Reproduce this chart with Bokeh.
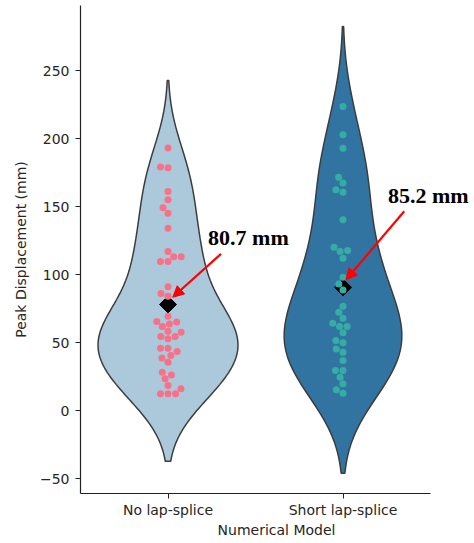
import numpy as np
from bokeh.plotting import figure
from bokeh.models import Range1d, FixedTicker, Label, Arrow, NormalHead
from bokeh.embed import file_html
from bokeh.resources import INLINE

# ---------------- data ----------------
categories = ["No lap-splice", "Short lap-splice"]
no_lap_splice = [193, 179, 178.5, 161, 155, 149, 145, 134, 117, 113, 113, 109.5, 109.5,
                 91, 86, 84, 69.3, 65.4, 63.7, 65, 61.8, 57.6, 58.3, 54.4, 52.7, 54.4,
                 45.8, 45.8, 43.4, 40.4, 38.7, 35.5, 28.2, 26.2, 23.3, 18.4, 16, 12.3, 12.3, 12.3]
short_lap_splice = [223.5, 202.7, 192.9, 171.5, 167.2, 162.3, 160.5, 140.2,
                    120, 116.9, 117.6, 112, 98, 93.1, 88.7, 76.7, 72.3, 67.9, 64.2,
                    61.8, 61.8, 57.1, 51.5, 49.8, 45.3, 42.9, 36.8, 29.4, 29.4, 24.5,
                    19.6, 15.2, 12.7]
series = [no_lap_splice, short_lap_splice]
mean_labels = ["80.7 mm", "85.2 mm"]
y_ticks = [-50, 0, 50, 100, 150, 200, 250]

# ---------------- styling / layout ----------------
violin_fill = ["#abc9db", "#3274a1"]
point_color = ["#f77189", "#36ada4"]
W, H = 472, 543
ML, MR, MT, MB = 80, 0, 5, 50
ppx = 175.0   # px per category unit
ppy = 1.36    # px per mm
x0 = -0.5
XR = (x0, x0 + (W - ML - MR) / ppx)
y1 = 297.8
YR = (y1 - (H - MT - MB) / ppy, y1)

p = figure(width=W, height=H, x_range=Range1d(*XR), y_range=Range1d(*YR),
           output_backend="svg", toolbar_location=None,
           min_border_left=ML, min_border_right=MR, min_border_top=MT, min_border_bottom=MB)
p.outline_line_color = None
p.xgrid.visible = False
p.ygrid.visible = False
p.background_fill_color = "white"


def kde(vals, cut=2, gridsize=100):
    v = np.asarray(vals, float)
    bw = v.std(ddof=1) * len(v) ** (-1 / 5)
    s = np.linspace(v.min() - cut * bw, v.max() + cut * bw, gridsize)
    d = np.exp(-0.5 * ((s[:, None] - v[None, :]) / bw) ** 2).sum(1) / (len(v) * bw * np.sqrt(2 * np.pi))
    return s, d


def swarm(vals, r):
    vals = np.asarray(vals, float)
    order = np.argsort(vals, kind="stable")
    placed = []
    out = np.zeros(len(vals))
    for idx in order:
        y = vals[idx] * ppy
        nb = [(xj, yj) for xj, yj in placed if abs(y - yj) < 2 * r]
        cands = [0.0]
        left_first = True
        for xj, yj in reversed(nb):
            dx = np.sqrt(max((2 * r) ** 2 - (y - yj) ** 2, 0)) * 1.05
            cands.extend([xj - dx, xj + dx] if left_first else [xj + dx, xj - dx])
            left_first = not left_first
        cands.sort(key=abs)
        x = cands[-1]
        for c in cands:
            if all((c - xj) ** 2 + (y - yj) ** 2 >= (2 * r) ** 2 - 1e-6 for xj, yj in nb):
                x = c
                break
        placed.append((x, y))
        out[idx] = x / ppx
    return out


kdes = [kde(s) for s in series]
dmax = max(d.max() for _, d in kdes)
for i, (s, d) in enumerate(kdes):
    half = d / dmax * 0.4
    xs = np.concatenate([i - half, (i + half)[::-1]])
    ys = np.concatenate([s, s[::-1]])
    p.patch(xs, ys, fill_color=violin_fill[i], line_color="#3d3d3d", line_width=1.5)

means = [float(np.mean(s)) for s in series]
p.scatter(x=[0, 1], y=means, marker="square", angle=np.pi / 4, size=12,
          fill_color="black", line_color="black")

for i, s in enumerate(series):
    off = swarm(s, 3.6)
    p.scatter(x=i + off, y=s, marker="circle", size=7, fill_color=point_color[i], line_color=None)

# annotations
ann_text_pos = [(0.229, 127), (1.257, 158)]
ann_arrow = [((0.303, 115.2), (0.027, 83.3)), ((1.350, 146.5), (1.017, 96.1))]
for (tx, ty), txt in zip(ann_text_pos, mean_labels):
    p.add_layout(Label(x=tx, y=ty, text=txt, text_font="Liberation Serif", text_font_style="bold",
                       text_font_size="22px", text_align="left", text_baseline="middle",
                       text_color="black"))
for (a, b) in ann_arrow:
    p.add_layout(Arrow(x_start=a[0], y_start=a[1], x_end=b[0], y_end=b[1],
                       line_color="red", line_width=2.2,
                       end=NormalHead(size=11, fill_color="red", line_color="red")))

# axes
for ax in (p.xaxis[0], p.yaxis[0]):
    ax.axis_line_color = "#222222"
    ax.axis_line_width = 1.2
    ax.major_tick_line_color = "#222222"
    ax.major_tick_in = 0
    ax.major_tick_out = 5
    ax.minor_tick_line_color = None
    ax.major_label_text_font = "DejaVu Sans"
    ax.major_label_text_font_size = "14px"
    ax.major_label_text_color = "#262626"
    ax.axis_label_text_font = "DejaVu Sans"
    ax.axis_label_text_font_size = "14px"
    ax.axis_label_text_font_style = "normal"
    ax.axis_label_text_color = "#262626"

p.xaxis.ticker = FixedTicker(ticks=[0, 1])
p.xaxis.bounds = (-0.5, 1.5)
p.xaxis.major_label_overrides = {0: categories[0], 1: categories[1]}
p.xaxis.axis_label = "Numerical Model"
p.xaxis.major_label_standoff = 3
p.xaxis.axis_label_standoff = 1

p.yaxis.ticker = FixedTicker(ticks=y_ticks)
p.yaxis.major_label_overrides = {t: (("\u2212" + str(-t)) if t < 0 else str(t)) for t in y_ticks}
p.yaxis.axis_label = "Peak Displacement (mm)"
p.yaxis.major_label_standoff = 6
p.yaxis.axis_label_standoff = 8

open("out.html", "w").write(file_html(p, INLINE))
